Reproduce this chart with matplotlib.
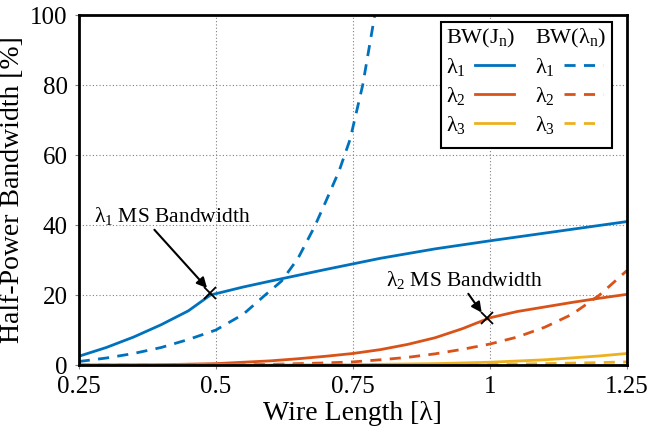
import numpy as np
import matplotlib
matplotlib.use("Agg")
import matplotlib.pyplot as plt
from matplotlib.patches import Rectangle

plt.rcParams['font.family'] = ['Liberation Serif', 'DejaVu Serif']
plt.rcParams['mathtext.fontset'] = 'custom'
plt.rcParams['mathtext.rm'] = 'Liberation Serif'
plt.rcParams['mathtext.it'] = 'Liberation Serif'
plt.rcParams['mathtext.default'] = 'rm'

# values
x_j1 = [0.25, 0.30, 0.35, 0.40, 0.45, 0.49, 0.55, 0.60, 0.70, 0.80, 0.90, 1.00, 1.10, 1.25]
bw_j1 = [2.5, 5.0, 8.0, 11.5, 15.5, 20.0, 22.3, 24.0, 27.3, 30.5, 33.2, 35.5, 37.7, 41.0]
x_l1 = [0.25, 0.30, 0.35, 0.40, 0.45, 0.50, 0.55, 0.59, 0.62, 0.65, 0.68, 0.70, 0.725, 0.745, 0.768, 0.79]
bw_l1 = [1.0, 2.0, 3.3, 5.0, 7.3, 10.0, 14.5, 20.0, 24.0, 30.5, 39.5, 46.5, 55.5, 64.5, 80.0, 100.0]
x_j2 = [0.25, 0.40, 0.50, 0.55, 0.60, 0.65, 0.70, 0.75, 0.80, 0.85, 0.90, 0.95, 1.00, 1.05, 1.10, 1.15, 1.20, 1.25]
bw_j2 = [0.0, 0.1, 0.4, 0.8, 1.2, 1.8, 2.5, 3.3, 4.4, 5.9, 7.8, 10.4, 13.5, 15.3, 16.6, 17.9, 19.1, 20.2]
x_l2 = [0.25, 0.50, 0.60, 0.70, 0.75, 0.80, 0.85, 0.90, 0.95, 1.00, 1.05, 1.10, 1.15, 1.20, 1.25]
bw_l2 = [0.0, 0.0, 0.2, 0.6, 0.9, 1.5, 2.2, 3.2, 4.5, 6.0, 8.0, 10.8, 14.5, 20.0, 27.0]
x_j3 = [0.25, 0.60, 0.75, 0.90, 1.00, 1.10, 1.20, 1.25]
bw_j3 = [0.0, 0.0, 0.1, 0.4, 0.8, 1.5, 2.6, 3.3]
x_l3 = [0.25, 0.80, 1.00, 1.10, 1.20, 1.25]
bw_l3 = [0.0, 0.0, 0.2, 0.4, 0.7, 0.9]

ms_x = [0.49, 0.995]
ms_y = [20.5, 13.5]

blue = '#0072BD'
red = '#D95319'
yellow = '#EDB120'
dash = (0, (4, 3))

fig = plt.figure(figsize=(6.51, 4.32), dpi=100)
ax = fig.add_axes([0.121, 0.155, 0.842, 0.81])

ax.plot(x_j1, bw_j1, color=blue, lw=2)
ax.plot(x_j2, bw_j2, color=red, lw=2)
ax.plot(x_j3, bw_j3, color=yellow, lw=2)
ax.plot(x_l1, bw_l1, color=blue, lw=2, ls=dash)
ax.plot(x_l2, bw_l2, color=red, lw=2, ls=dash)
ax.plot(x_l3, bw_l3, color=yellow, lw=2, ls=dash)

ax.plot(ms_x, ms_y, 'kx', ms=8, mew=1.3)

ax.annotate('λ$_1$ MS Bandwidth', xy=(ms_x[0] - 0.006, ms_y[0] + 1.5), xytext=(0.278, 42.6),
            fontsize=15.5, ha='left', va='center',
            arrowprops=dict(arrowstyle='-|>', color='k', lw=1.5, mutation_scale=15,
                            shrinkA=0, shrinkB=0, relpos=(0.35, 0.15)))
ax.annotate('λ$_2$ MS Bandwidth', xy=(ms_x[1] - 0.01, ms_y[1] + 1.5), xytext=(0.81, 24.3),
            fontsize=15.5, ha='left', va='center',
            arrowprops=dict(arrowstyle='-|>', color='k', lw=1.5, mutation_scale=15,
                            shrinkA=0, shrinkB=0, relpos=(0.5, 0.15)))

ax.set_xlim(0.25, 1.25)
ax.set_ylim(0, 100)
ax.set_xticks([0.25, 0.5, 0.75, 1, 1.25])
ax.set_xticklabels(['0.25', '0.5', '0.75', '1', '1.25'])
ax.set_yticks([0, 20, 40, 60, 80, 100])
ax.tick_params(labelsize=18, length=3, width=0.8, pad=5, color='gray')
ax.grid(True, color='gray', ls=(0, (1, 2)), lw=0.8)
for s in ax.spines.values():
    s.set_linewidth(2)
ax.set_xlabel('Wire Length [λ]', fontsize=20, labelpad=2)
ax.set_ylabel('Half-Power Bandwidth [%]', fontsize=20)

# legend box drawn by hand (two columns with headers)
def fx(px):
    return (px - 79) / 548.0

def fy(py):
    return (365 - py) / 350.0

ax.add_patch(Rectangle((fx(441), fy(148)), fx(612) - fx(441), fy(22) - fy(148),
                       transform=ax.transAxes, facecolor='white', edgecolor='k',
                       lw=1.5, zorder=5))
ax.text(fx(446), fy(38), 'BW(J$_n$)', transform=ax.transAxes, fontsize=16,
        va='center', ha='left', zorder=6)
ax.text(fx(535), fy(38), 'BW(λ$_n$)', transform=ax.transAxes, fontsize=16,
        va='center', ha='left', zorder=6)
row_y = [67, 96, 125]
row_c = [blue, red, yellow]
for i in range(3):
    for col_x, ls in [(446, '-'), (535, dash)]:
        ax.text(fx(col_x), fy(row_y[i]), 'λ$_%d$' % (i + 1), transform=ax.transAxes,
                fontsize=16, va='center', ha='left', zorder=6)
        ax.plot([fx(col_x + 29), fx(col_x + 68)], [fy(row_y[i] - 2)] * 2,
                transform=ax.transAxes, color=row_c[i], lw=2, ls=ls, zorder=6)

plt.savefig('out.png')
